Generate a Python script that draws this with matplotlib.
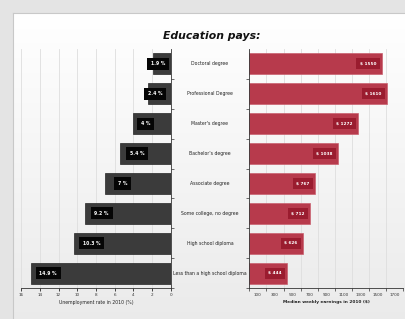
import numpy as np
import matplotlib
matplotlib.use('Agg')
import matplotlib.pyplot as plt
from matplotlib.ticker import FixedLocator, NullFormatter

categories = ['Doctoral degree', 'Professional Degree', "Master's degree", "Bachelor's degree",
              'Associate degree', 'Some college, no degree', 'High school diploma',
              'Less than a high school diploma']
unemployment = [1.9, 2.4, 4.0, 5.4, 7.0, 9.2, 10.3, 14.9]
earnings = [1550, 1610, 1272, 1038, 767, 712, 626, 444]
unemp_ticks = [16, 14, 12, 10, 8, 6, 4, 2, 0]
earn_label_ticks = [100, 300, 500, 700, 900, 1100, 1300, 1500, 1700]

W, H = 406, 319
fig = plt.figure(figsize=(W / 100, H / 100), dpi=100)
fig.patch.set_facecolor('#e4e4e4')

# white panel with a soft gradient toward the bottom
bg = fig.add_axes([13 / W, 0, 1 - 13 / W, 1 - 13 / H])
grad = np.linspace(1.0, 0.92, 256).reshape(-1, 1)
bg.imshow(np.dstack([grad, grad, grad]), aspect='auto', extent=[0, 1, 0, 1], origin='upper')
bg.set_xticks([])
bg.set_yticks([])
for s in bg.spines.values():
    s.set_color('#c8c8c8')
    s.set_linewidth(0.8)
bg.spines['right'].set_visible(False)
bg.spines['bottom'].set_visible(False)

fig.text(211.5 / W, 1 - 36 / H, 'Education pays:', ha='center', va='center',
         fontsize=7.8, fontweight='bold', style='italic', color='#111111')

y = np.arange(len(categories))
ax_bottom = 1 - 288 / H
ax_height = (288 - 49) / H

# left: unemployment
axl = fig.add_axes([21 / W, ax_bottom, 150 / W, ax_height])
axl.patch.set_alpha(0)
axl.barh(y, unemployment, height=0.7, color='#3b3b3b', edgecolor='#262626', linewidth=0.5, zorder=2)
axl.set_xlim(16, 0)
axl.set_ylim(len(categories) - 0.5, -0.5)
axl.xaxis.set_major_locator(FixedLocator(unemp_ticks))
axl.grid(axis='x', color='#dedede', linewidth=0.6, zorder=0)
axl.yaxis.tick_right()
axl.set_yticks(y + 0.5)
axl.yaxis.set_major_formatter(NullFormatter())
axl.tick_params(axis='y', length=2, width=0.5, color='#333333', direction='out')
axl.tick_params(axis='x', length=2, width=0.5, labelsize=3, pad=1.5, labelcolor='#333333')
for s in ['top', 'left']:
    axl.spines[s].set_visible(False)
for s in ['right', 'bottom']:
    axl.spines[s].set_linewidth(0.6)
    axl.spines[s].set_color('#333333')
axl.set_xlabel('Unemployment rate in 2010 (%)', fontsize=3.3, labelpad=2, color='#222222')

px_per_unit = 150 / 16
for yi, v in zip(y, unemployment):
    length_px = v * px_per_unit
    off_px = min(17, 0.37 * length_px - 1.5)
    xc = v - off_px / px_per_unit
    axl.text(xc, yi, f'{v:g} %', ha='center', va='center', fontsize=3.3, fontweight='bold',
             color='white', zorder=4,
             bbox=dict(boxstyle='square,pad=0.8', facecolor='#050505', edgecolor='none'))

# right: earnings
axr = fig.add_axes([249.3 / W, ax_bottom, 154 / W, ax_height])
axr.patch.set_alpha(0)
axr.barh(y, earnings, height=0.7, color='#b73a4c', edgecolor='#c9606f', linewidth=0.5, zorder=2)
axr.set_xlim(0, 1800)
axr.set_ylim(len(categories) - 0.5, -0.5)
axr.set_xticks(np.arange(0, 1801, 200))
axr.xaxis.set_major_formatter(NullFormatter())
axr.set_xticks(earn_label_ticks, minor=True)
axr.set_xticklabels([str(t) for t in earn_label_ticks], minor=True)
axr.tick_params(axis='x', which='minor', length=0, labelsize=3, pad=3.5, labelcolor='#333333')
axr.tick_params(axis='x', which='major', length=2, width=0.5, color='#333333')
axr.grid(axis='x', which='major', color='#dedede', linewidth=0.6, zorder=0)
axr.set_yticks(y + 0.5)
axr.yaxis.set_major_formatter(NullFormatter())
axr.tick_params(axis='y', length=2, width=0.5, color='#333333', direction='out')
for s in ['top', 'right']:
    axr.spines[s].set_visible(False)
for s in ['left', 'bottom']:
    axr.spines[s].set_linewidth(0.6)
    axr.spines[s].set_color('#333333')
axr.set_xlabel('Median weekly earnings in 2010 ($)', fontsize=3.1, fontweight='bold',
               labelpad=2, color='#222222')

px_per_dollar = 154 / 1800
for yi, v in zip(y, earnings):
    xr = v - 5.5 / px_per_dollar
    axr.text(xr, yi, f'$ {v}', ha='right', va='center', fontsize=3.1, fontweight='bold',
             color='white', zorder=4,
             bbox=dict(boxstyle='square,pad=0.8', facecolor='#9a1c2f', edgecolor='none'))

# category labels in the gap between the two panels
for yi, c in zip(y, categories):
    fy = ax_bottom + ax_height * (1 - (yi + 0.5) / len(categories))
    fig.text(210 / W, fy, c, ha='center', va='center', fontsize=3.3, color='#222222')

fig.savefig('out.png', dpi=100, facecolor=fig.get_facecolor())
